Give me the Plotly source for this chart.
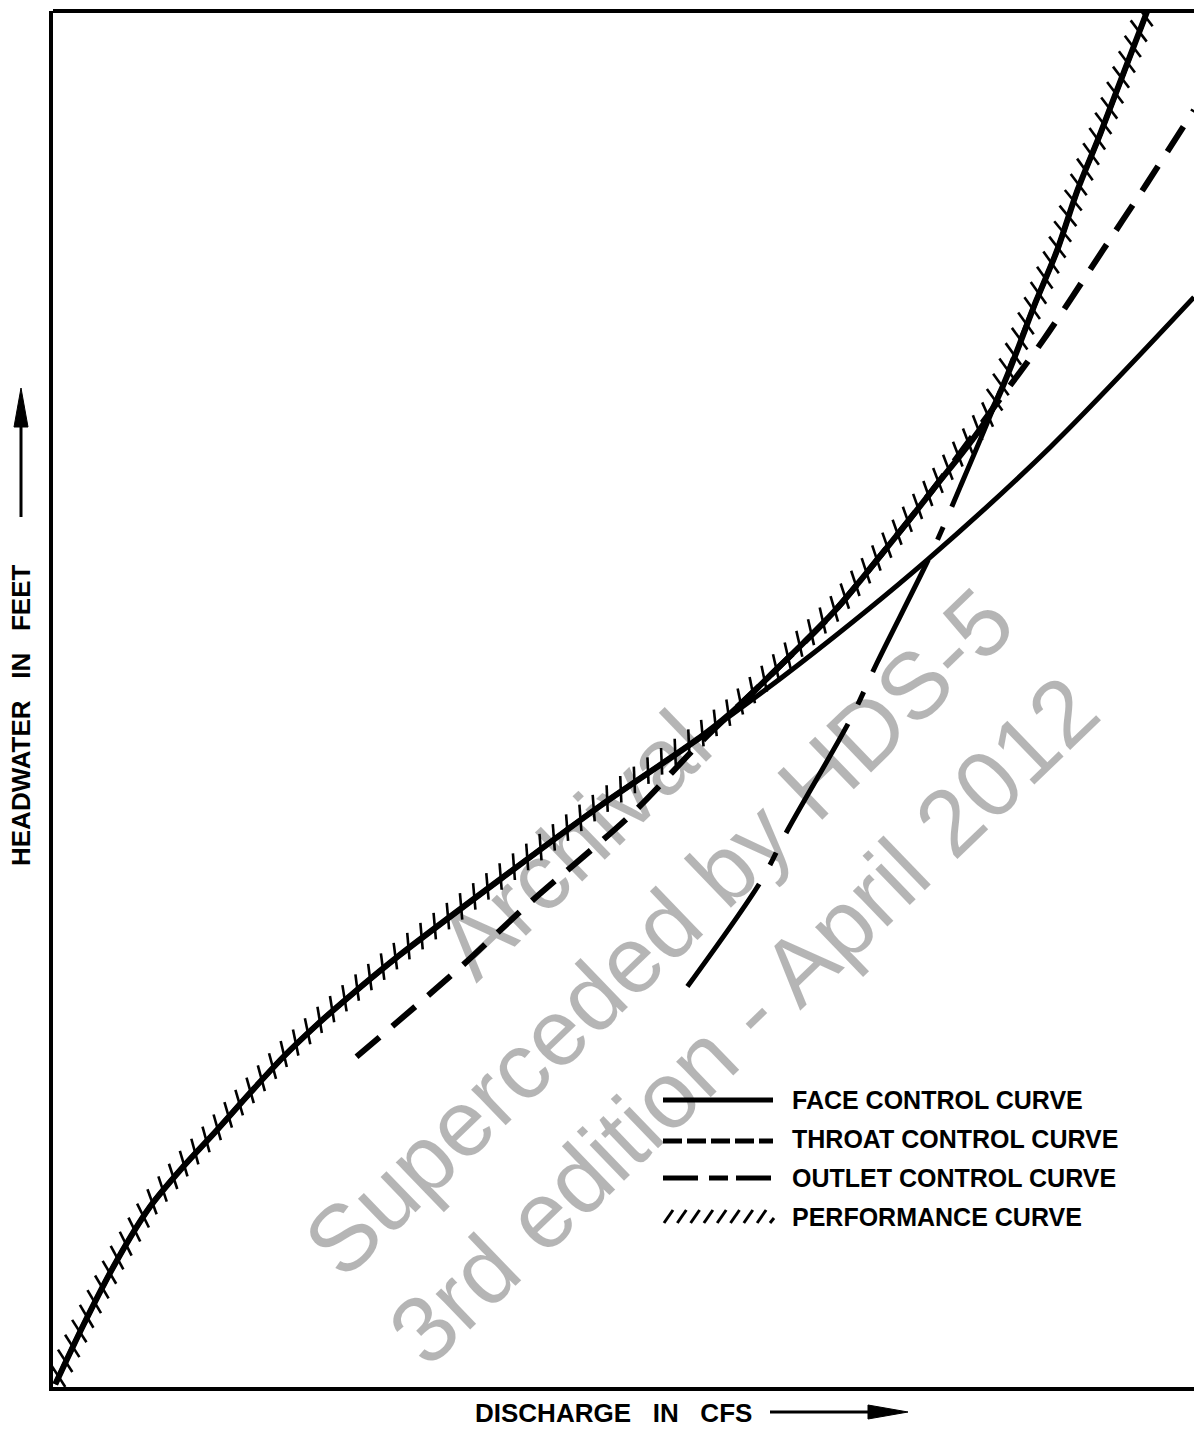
import numpy as np
import plotly.graph_objects as go

# ---- culvert performance curves (discharge vs headwater, schematic units 0-100) ----
face_q = [0.2, 2.6, 5.6, 8.5, 11.4, 14.4, 17.3, 20.2, 23.1, 26.0, 30.4, 39.2, 47.9, 56.7, 65.5, 76.6, 87.4, 100.0]
face_h = [0.2, 4.4, 9.2, 13.1, 16.0, 18.7, 21.4, 24.0, 26.3, 28.4, 31.4, 36.9, 42.2, 47.2, 52.6, 60.1, 68.3, 79.2]

throat_q = [26.6, 35.7, 41.8, 50.8, 56.7, 62.6, 68.4, 72.7, 77.1, 82.1, 86.8, 92.0, 95.9, 100.0]
throat_h = [24.0, 30.5, 35.2, 41.7, 46.8, 51.5, 56.3, 60.6, 65.2, 70.8, 76.1, 82.6, 87.5, 92.8]

outlet_q = [55.6, 62.0, 64.4, 70.0, 72.2, 77.1, 79.5, 82.1, 86.2, 88.0, 89.8, 91.8, 96.0]
outlet_h = [29.1, 36.7, 40.5, 48.7, 52.6, 60.8, 65.4, 70.5, 79.0, 82.6, 87.0, 91.1, 100.2]

# controlling (highest) headwater: face -> throat -> outlet
perf_q = [0.2, 2.6, 5.6, 8.5, 11.4, 14.4, 17.3, 20.2, 23.1, 26.0, 30.4, 39.2, 47.9, 56.7, 59.3,
          62.6, 68.4, 72.7, 77.1, 82.1, 86.2, 88.0, 89.8, 91.8, 96.0]
perf_h = [0.2, 4.4, 9.2, 13.1, 16.0, 18.7, 21.4, 24.0, 26.3, 28.4, 31.4, 36.9, 42.2, 47.2, 48.9,
          51.5, 56.3, 60.6, 65.2, 70.7, 79.0, 82.6, 87.0, 91.1, 100.2]

legend_labels = ["FACE CONTROL CURVE", "THROAT CONTROL CURVE", "OUTLET CONTROL CURVE", "PERFORMANCE CURVE"]
x_title = "DISCHARGE\u00a0\u00a0 IN\u00a0\u00a0 CFS"
y_title = "HEADWATER\u00a0\u00a0 IN\u00a0\u00a0 FEET"
watermark = "Archival<br>Superceded by HDS-5<br>3rd edition - April 2012"

# ---- page geometry ----
W, H = 1194, 1435
ML, MR, MT, MB = 53, 0, 11, 48
PW, PH = W - ML - MR, H - MT - MB
PX_PER_Q, PX_PER_H = PW / 100.0, PH / 100.0


def fx(px):
    """page pixel x -> paper x"""
    return (px - ML) / PW


def fy(py):
    """page pixel y -> paper y"""
    return (H - MB - py) / PH


def hatch_marks(q, h, step_px, rel_angle):
    """evenly spaced spots (screen distance) along a curve plus the
    marker rotation that keeps each hatch stroke at rel_angle to the curve"""
    q = np.asarray(q, float)
    h = np.asarray(h, float)
    xs, ys = q * PX_PER_Q, h * PX_PER_H
    s = np.concatenate([[0.0], np.cumsum(np.hypot(np.diff(xs), np.diff(ys)))])
    t = np.arange(step_px * 0.4, s[-1], step_px)
    tx, ty = np.interp(t, s, xs), np.interp(t, s, ys)
    ax_ = np.interp(t + 6, s, xs) - np.interp(t - 6, s, xs)
    ay_ = np.interp(t + 6, s, ys) - np.interp(t - 6, s, ys)
    curve_deg = np.degrees(np.arctan2(ay_, ax_))
    stroke_deg = curve_deg + rel_angle
    # line-ns is vertical; plotly rotates markers clockwise
    rot = 90.0 - stroke_deg
    return tx / PX_PER_Q, (ty + 2.5) / PX_PER_H, rot


BLACK = "#000000"
fig = go.Figure()

fig.add_trace(go.Scatter(x=face_q, y=face_h, mode="lines",
                         line=dict(color=BLACK, width=5, shape="spline", smoothing=0.9)))
fig.add_trace(go.Scatter(x=throat_q, y=throat_h, mode="lines",
                         line=dict(color=BLACK, width=6, shape="spline", smoothing=0.9, dash="30px,17px")))
fig.add_trace(go.Scatter(x=outlet_q, y=outlet_h, mode="lines",
                         line=dict(color=BLACK, width=5, shape="spline", smoothing=0.9,
                                   dash="125px,22px,14px,22px")))
fig.add_trace(go.Scatter(x=perf_q, y=perf_h, mode="lines",
                         line=dict(color=BLACK, width=6, shape="spline", smoothing=0.8)))

# hatch marks on the performance curve
tq, th, rot = hatch_marks(perf_q, perf_h, 16.5, 58.0)
fig.add_trace(go.Scatter(x=tq, y=th, mode="markers", cliponaxis=True,
                         marker=dict(symbol="line-ns", size=19, angle=rot,
                                     line=dict(color=BLACK, width=2.6))))

shapes = []
# top border of the chart frame
shapes.append(dict(type="line", xref="paper", yref="paper", x0=0, x1=1, y0=1, y1=1,
                   line=dict(color=BLACK, width=4)))

# legend samples
x0, x1 = fx(663), fx(773)
shapes.append(dict(type="line", xref="paper", yref="paper", x0=x0, x1=x1, y0=fy(1100), y1=fy(1100),
                   line=dict(color=BLACK, width=5)))
shapes.append(dict(type="line", xref="paper", yref="paper", x0=x0, x1=x1, y0=fy(1141), y1=fy(1141),
                   line=dict(color=BLACK, width=5, dash="19px,5px")))
shapes.append(dict(type="line", xref="paper", yref="paper", x0=x0, x1=x1, y0=fy(1178), y1=fy(1178),
                   line=dict(color=BLACK, width=5, dash="35px,11px,19px,8px")))
for i in range(8):
    bx = 664 + i * 13.3
    shapes.append(dict(type="line", xref="paper", yref="paper",
                       x0=fx(bx), x1=fx(bx + 9), y0=fy(1223), y1=fy(1210),
                       line=dict(color=BLACK, width=3)))
shapes.append(dict(type="line", xref="paper", yref="paper",
                   x0=fx(770), x1=fx(774), y0=fy(1223), y1=fy(1218),
                   line=dict(color=BLACK, width=3)))

# axis arrows
shapes.append(dict(type="line", xref="paper", yref="paper", x0=fx(770), x1=fx(875), y0=fy(1412), y1=fy(1412),
                   line=dict(color=BLACK, width=3)))
shapes.append(dict(type="path", xref="paper", yref="paper",
                   path=f"M {fx(868)},{fy(1405)} L {fx(908)},{fy(1412)} L {fx(868)},{fy(1419)} Z",
                   fillcolor=BLACK, line=dict(color=BLACK, width=1)))
shapes.append(dict(type="line", xref="paper", yref="paper", x0=fx(21), x1=fx(21), y0=fy(517), y1=fy(420),
                   line=dict(color=BLACK, width=3)))
shapes.append(dict(type="path", xref="paper", yref="paper",
                   path=f"M {fx(14)},{fy(427)} L {fx(21)},{fy(388)} L {fx(28)},{fy(427)} Z",
                   fillcolor=BLACK, line=dict(color=BLACK, width=1)))

FAMILY = "Liberation Sans, Arial, sans-serif"
LETTER = dict(family=FAMILY, size=25, color=BLACK, weight="bold")
TITLE = dict(family=FAMILY, size=26, color=BLACK, weight="bold")
annotations = []
for label, ypx in zip(legend_labels, [1100, 1139, 1178, 1217]):
    annotations.append(dict(text=label, xref="paper", yref="paper", x=fx(790), y=fy(ypx),
                            xanchor="left", yanchor="middle", showarrow=False, font=LETTER))

annotations.append(dict(text=x_title, xref="paper", yref="paper", x=fx(473), y=fy(1413),
                        xanchor="left", yanchor="middle", showarrow=False, font=TITLE))
annotations.append(dict(text=y_title, xref="paper", yref="paper", x=fx(21), y=fy(868),
                        xanchor="center", yanchor="bottom", textangle=-90, showarrow=False, font=TITLE))

annotations.append(dict(text=watermark, xref="paper", yref="paper", x=fx(658), y=fy(932),
                        xanchor="center", yanchor="middle", textangle=-44, showarrow=False,
                        font=dict(family=FAMILY, size=94, color="rgba(0,0,0,0.29)")))

fig.update_layout(
    width=W, height=H,
    margin=dict(l=ML, r=MR, t=MT, b=MB, pad=0),
    paper_bgcolor="white", plot_bgcolor="white",
    showlegend=False,
    xaxis=dict(range=[0, 100], showgrid=False, zeroline=False, showticklabels=False, ticks="",
               showline=True, linecolor=BLACK, linewidth=4, fixedrange=True),
    yaxis=dict(range=[0, 100], showgrid=False, zeroline=False, showticklabels=False, ticks="",
               showline=True, linecolor=BLACK, linewidth=4, fixedrange=True),
    shapes=shapes,
    annotations=annotations,
)

fig.write_html("out.html")
